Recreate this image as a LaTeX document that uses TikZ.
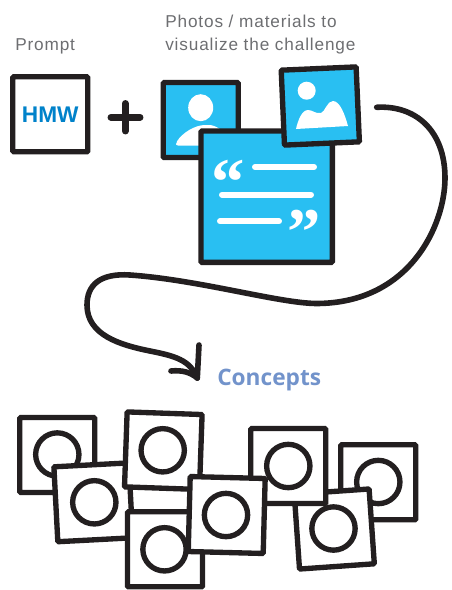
\documentclass[tikz,border=0pt]{standalone}
\usepackage{fontspec}
\setmainfont{Liberation Sans}
\newfontfamily\labelfont[LetterSpace=5]{Liberation Sans}
\newfontfamily\conceptfont{Open Sans}[BoldFont={Open Sans Bold}]
\newfontfamily\quotefont{Liberation Serif Bold}
\definecolor{ink}{HTML}{231F20}
\definecolor{sky}{HTML}{29BFF2}
\definecolor{hmwblue}{HTML}{0082CA}
\definecolor{labelgray}{HTML}{6D6E71}
\definecolor{conceptblue}{HTML}{7293CB}
\tikzset{
  card/.style={draw=ink,line width=4pt,fill=white,rounded corners=0.8pt,minimum size=56.25pt,inner sep=0pt},
  ring/.style={draw=ink,line width=4pt,circle,minimum size=32.5pt,inner sep=0pt},
  bluecard/.style={card,fill=sky},
  caption/.style={font=\labelfont\fontsize{12.9pt}{14pt}\selectfont,text=labelgray,anchor=base west,inner sep=0pt},
  whiterule/.style={draw=white,line width=4.5pt,line cap=round},
  quotemark/.style={text=white,inner sep=0pt,font=\quotefont\fontsize{50pt}{50pt}\selectfont,anchor=center},
  hand/.style={draw=ink,line width=4.2pt,line cap=round,line join=round}
}
\begin{document}
\begin{tikzpicture}[x=0.75pt,y=-0.75pt]
\useasboundingbox (0,0) rectangle (451,590);
\node[caption] (prompt) at (15,50) {Prompt};
\node[caption] (photos) at (165,27.3) {Photos / materials to};
\node[caption] (visual) at (165,50) {visualize the challenge};
\node[card] (hmw) at (50.3,114.3) {\fontsize{17pt}{18pt}\selectfont\bfseries\color{hmwblue}HMW};
\draw[ink,line width=5.2pt,line cap=round] (111,117.3) -- (140,117.3) (125.3,103.5) -- (125.3,131);
% person
\node[bluecard] (person) at (200.7,120) {};
\fill[white] (200.7,107.7) ellipse [x radius=12.5,y radius=13.5];
\fill[white,rounded corners=1.5pt] (176,145.5) -- (176,143) .. controls (182,133) and (195,125) .. (207,125) .. controls (215,125) and (225,130) .. (232,145.5) -- cycle;
% document
\node[bluecard,minimum size=98.5pt] (doc) at (266.7,196.7) {};
\node[quotemark] (openq) at (228,182) {“};
\node[quotemark] (closeq) at (304,232) {”};
\draw[whiterule] (255,167) -- (314,167);
\draw[whiterule] (222,194.7) -- (311,194.7);
\draw[whiterule] (220,221.3) -- (279,221.3);
% landscape
\node[bluecard,rotate=2.5] (land) at (320.3,106) {};
\fill[white] (306.7,90.7) circle [radius=9];
\fill[white] (296,129) .. controls (298,120) and (302,110) .. (308,110) .. controls (313,110) and (315,114) .. (321,113) .. controls (325,112) and (327,101) .. (333,101) .. controls (340,101) and (345,115) .. (348,126) -- cycle;
% connector
\coordinate (curvestart) at (376.7,107.3);
\coordinate (curveend) at (197.3,378);
\draw[hand] (curvestart) .. controls (415,105) and (445,130) .. (445,178)
  .. controls (445,225) and (410,303) .. (317,303.5)
  .. controls (280,303.5) and (200,280) .. (130,275)
  .. controls (100,273) and (87,285) .. (87,305)
  .. controls (87,335) and (120,345) .. (150,351)
  .. controls (175,356) and (190,360) .. (curveend);
\coordinate (tipa) at (199,345);
\coordinate (tipb) at (171,371);
\draw[hand] (tipa) -- (curveend);
\draw[hand] (tipb) .. controls (182,370) and (190,372) .. (curveend);
\node[font=\conceptfont\bfseries\fontsize{17pt}{18pt}\selectfont,text=conceptblue,anchor=base west,inner sep=0pt] (concepts) at (217,385) {Concepts};
% concept cards
\node[card] (a) at (57.3,455) {};
\node[ring] (ra) at (57.3,454.5) {};
\node[card,rotate=3] (b) at (93.3,502.3) {};
\node[ring] (rb) at (94.3,502.3) {};
\node[card] (c) at (165,549.3) {};
\node[ring] (rc) at (164.5,549.3) {};
\node[card,rotate=-2] (d) at (163.3,450.7) {};
\node[ring] (rd) at (162.7,450.3) {};
\node[card] (g) at (378.3,482.3) {};
\node[ring] (rg) at (378.3,482) {};
\node[card,rotate=4] (h) at (334.3,529) {};
\node[ring] (rh) at (333.5,528.5) {};
\node[card] (f) at (288.3,466) {};
\node[ring] (rf) at (288.3,466) {};
\node[card,rotate=-1.5] (e) at (226.7,515) {};
\node[ring] (re) at (226,515) {};
\end{tikzpicture}
\end{document}
